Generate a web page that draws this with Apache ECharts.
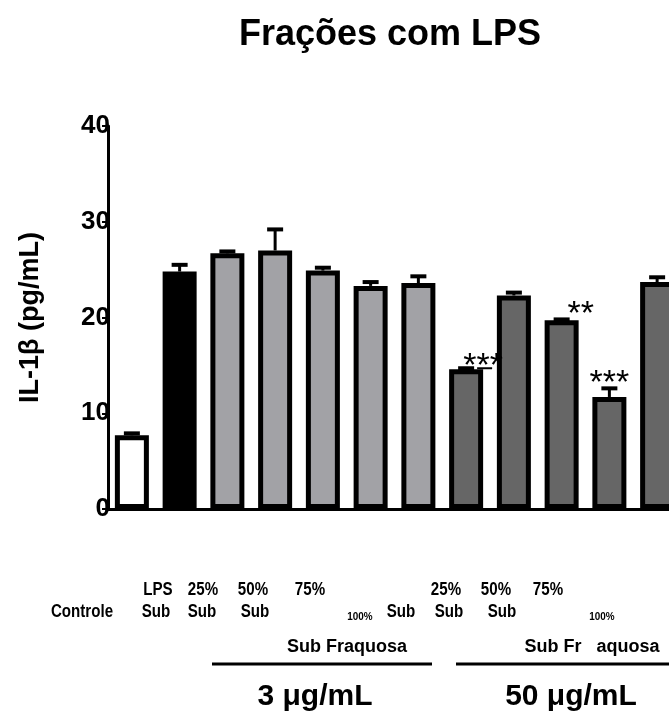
<!DOCTYPE html>
<html>
<head>
<meta charset="utf-8">
<script src="https://cdn.jsdelivr.net/npm/echarts@6/dist/echarts.min.js"></script>
<style>
  html, body { margin: 0; padding: 0; background: #fff; overflow: hidden; }
  #chart { width: 681px; height: 722px; }
</style>
</head>
<body>
<div id="chart"></div>
<script>
// IL-1β response per group (pg/mL)
const categories = ['Controle', 'LPS', '3-25', '3-50', '3-75', '3-100', '3-Sub',
                    '50-25', '50-50', '50-75', '50-100', '50-Sub'];
const means  = [7.7, 24.8, 26.7, 27.0, 24.9, 23.3, 23.6, 14.6, 22.3, 19.7, 11.7, 23.7];
const errors = [0.2, 0.7, 0.2, 2.2, 0.3, 0.4, 0.7, 0.1, 0.3, 0.1, 0.9, 0.5];
const significance = ['', '', '', '', '', '', '', '***', '', '**', '***', ''];
const yTicks = [0, 10, 20, 30, 40];

// label fragments under the axis
const topRow = ['LPS', '25%', '50%', '75%', '25%', '50%', '75%'];
const bottomRow = ['Controle', 'Sub', 'Sub', 'Sub', 'Sub', 'Sub', 'Sub'];
const smallRow = ['100%', '100%'];
const groupTitles = ['Sub Fraquosa', 'Sub Fr   aquosa'];
const doses = ['3 μg/mL', '50 μg/mL'];

const fillColors = ['#ffffff', '#000000', '#a2a2a6', '#a2a2a6', '#a2a2a6', '#a2a2a6', '#a2a2a6',
                    '#666666', '#666666', '#666666', '#666666', '#666666'];

const sans = '"Liberation Sans", Arial, Helvetica, sans-serif';

const chart = echarts.init(document.getElementById('chart'), null, { renderer: 'canvas' });

const topX = [158, 203, 253, 310, 446, 496, 548];
const bottomX = [82, 156, 202, 255, 401, 449, 502];
const smallX = [360, 602];

// condensed bold label text
function label(t, x, y, size, sx) {
  return {
    type: 'text', x: x, y: y, scaleX: sx, scaleY: 1,
    style: { text: t, font: 'bold ' + size + 'px ' + sans, fill: '#000', align: 'center', verticalAlign: 'middle' }
  };
}

const graphics = [];
topRow.forEach((t, i) => graphics.push(label(t, topX[i], 590, 18, 0.84)));
bottomRow.forEach((t, i) => graphics.push(label(t, bottomX[i], 612, 18, 0.84)));
smallRow.forEach((t, i) => graphics.push(label(t, smallX[i], 617, 11, 0.9)));
[[347, 212, 432], [592, 456, 681]].forEach((g, i) => {
  graphics.push(label(groupTitles[i], g[0], 647, 18, 1));
  graphics.push({
    type: 'line', shape: { x1: g[1], y1: 664, x2: g[2], y2: 664 },
    style: { stroke: '#000', lineWidth: 3 }
  });
});
[[315, 697], [571, 697]].forEach((p, i) => graphics.push(label(doses[i], p[0], p[1], 30, 1)));

const option = {
  animation: false,
  backgroundColor: '#ffffff',
  title: {
    text: 'Frações com LPS',
    left: 385, top: 12, textAlign: 'center',
    textStyle: { fontFamily: sans, fontSize: 36, fontWeight: 'bold', color: '#000' }
  },
  grid: { left: 108, top: 126, right: 0, height: 383, containLabel: false },
  xAxis: {
    type: 'category',
    data: categories,
    axisLine: { lineStyle: { color: '#000', width: 3 } },
    axisTick: { alignWithLabel: true, length: 10, lineStyle: { color: '#000', width: 2 } },
    axisLabel: { show: false },
    splitLine: { show: false }
  },
  yAxis: {
    type: 'value',
    min: yTicks[0], max: yTicks[yTicks.length - 1], interval: 10,
    name: 'IL-1β (pg/mL)',
    nameLocation: 'middle',
    nameGap: 64,
    nameRotate: 90,
    nameTextStyle: { fontFamily: sans, fontSize: 27, fontWeight: 'bold', color: '#000' },
    axisLine: { show: true, lineStyle: { color: '#000', width: 3 } },
    axisTick: { show: true, length: 6, lineStyle: { color: '#000', width: 2 } },
    axisLabel: {
      margin: -2, color: '#000', fontFamily: sans, fontSize: 26, fontWeight: 'bold',
      padding: [6, 0, 0, 0]
    },
    splitLine: { show: false }
  },
  series: [
    {
      type: 'bar',
      barWidth: 34,
      data: means.map((v, i) => ({
        value: v,
        itemStyle: { color: fillColors[i], borderColor: '#000', borderWidth: 5 }
      })),
      z: 2
    },
    {
      type: 'custom',
      z: 3,
      data: means.map((v, i) => [i, v, errors[i]]),
      renderItem: function (params, api) {
        const i = api.value(0);
        const base = api.coord([i, api.value(1)]);
        const top = api.coord([i, api.value(1) + api.value(2)]);
        const children = [
          { type: 'line', shape: { x1: base[0], y1: base[1], x2: top[0], y2: top[1] },
            style: { stroke: '#000', lineWidth: 3 } },
          { type: 'rect', shape: { x: top[0] - 8, y: top[1] - 2, width: 16, height: 4 },
            style: { fill: '#000' } }
        ];
        const mark = significance[i];
        if (mark) {
          children.push({
            type: 'text',
            x: top[0] + (mark === '**' ? 19 : (i === 7 ? 17 : 0)),
            y: top[1] - (i === 7 ? 2 : 5),
            style: { text: mark, font: '34px ' + sans, fill: '#000', align: 'center', verticalAlign: 'middle' }
          });
        }
        if (i === 7) {
          children.push({ type: 'line', shape: { x1: top[0] + 11, y1: top[1], x2: top[0] + 26, y2: top[1] },
            style: { stroke: '#000', lineWidth: 2 } });
        }
        return { type: 'group', children: children };
      }
    }
  ],
  graphic: graphics
};

chart.setOption(option);
</script>
</body>
</html>
